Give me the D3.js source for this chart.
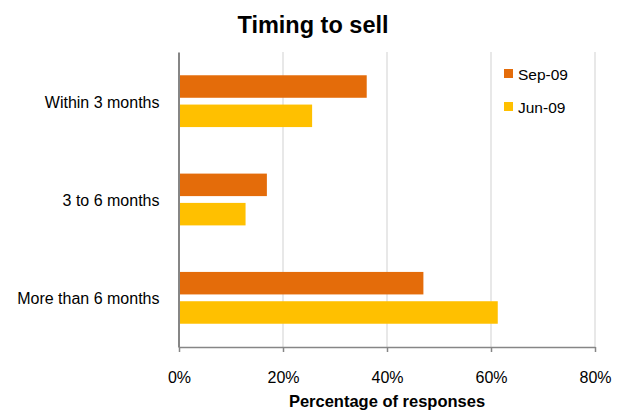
<!DOCTYPE html>
<html>
<head>
<meta charset="utf-8">
<script src="https://cdn.jsdelivr.net/npm/d3@7"></script>
<style>
  html, body { margin: 0; padding: 0; background: #fff; }
  svg { display: block; font-family: "Liberation Sans", Arial, sans-serif; }
</style>
</head>
<body>
<svg id="chart" width="617" height="410"></svg>
<script>
const categories = ["Within 3 months", "3 to 6 months", "More than 6 months"];
const seriesNames = ["Sep-09", "Jun-09"];
const sep09 = [36.1, 16.9, 47.0];
const jun09 = [25.6, 12.8, 61.3];
const xTicks = [0, 20, 40, 60, 80];
const colors = ["#E46C0A", "#FFC000"];
const titleText = "Timing to sell";
const xTitle = "Percentage of responses";

const seriesValues = [sep09, jun09];
const svg = d3.select("#chart");
const plotLeft = 179, plotRight = 595, plotTop = 52, plotBottom = 347;

const x = d3.scaleLinear().domain([0, 80]).range([plotLeft, plotRight]);
const y0 = d3.scaleBand().domain(categories).range([plotTop, plotBottom]).paddingInner(0).paddingOuter(0);
const y1 = d3.scaleBand().domain(seriesNames).range([0, y0.bandwidth()]).paddingInner(0.232).paddingOuter(0.794);

// gridlines
svg.append("g").selectAll("line").data(xTicks.filter(d => d > 0)).join("line")
  .attr("x1", d => x(d)).attr("x2", d => x(d))
  .attr("y1", plotTop).attr("y2", plotBottom)
  .attr("stroke", "#D9D9D9").attr("stroke-width", 1.2);

// bars
seriesNames.forEach((s, si) => {
  svg.append("g").selectAll("rect").data(categories).join("rect")
    .attr("x", x(0))
    .attr("y", c => y0(c) + y1(s))
    .attr("width", (c, i) => x(seriesValues[si][i]) - x(0))
    .attr("height", y1.bandwidth())
    .attr("fill", colors[si]);
});

// x axis
const xAxis = d3.axisBottom(x).tickValues(xTicks).tickFormat(d => d + "%").tickSize(5).tickSizeOuter(0).tickPadding(20);
const gx = svg.append("g").attr("transform", `translate(0,${plotBottom})`).call(xAxis);
gx.select(".domain").attr("stroke", "#868686").attr("stroke-width", 1.5);
gx.selectAll(".tick line").attr("stroke", "#868686").attr("stroke-width", 1.5);
gx.selectAll(".tick text").attr("font-size", "16px").attr("fill", "#000")
  .attr("font-family", "'Liberation Sans', Arial, sans-serif");

// y axis
const yAxis = d3.axisLeft(y0).tickSize(0).tickPadding(19);
const gy = svg.append("g").attr("transform", `translate(${plotLeft - 0.5},0)`).call(yAxis);
gy.select(".domain").attr("stroke", "#868686").attr("stroke-width", 2);
gy.selectAll(".tick text").attr("font-size", "16px").attr("fill", "#000").attr("dy", "0.4em")
  .attr("font-family", "'Liberation Sans', Arial, sans-serif");

// title
svg.append("text").attr("x", 313).attr("y", 33).attr("text-anchor", "middle")
  .attr("font-size", "23.5px").attr("font-weight", "bold").text(titleText);

// x title
svg.append("text").attr("x", (plotLeft + plotRight) / 2).attr("y", 407).attr("text-anchor", "middle")
  .attr("font-size", "16.5px").attr("font-weight", "bold").text(xTitle);

// legend
const legend = svg.append("g");
seriesNames.forEach((s, i) => {
  const ly = 69 + i * 33;
  legend.append("rect").attr("x", 504).attr("y", ly).attr("width", 9).attr("height", 9).attr("fill", colors[i]);
  legend.append("text").attr("x", 518).attr("y", ly + 10.5).attr("font-size", "15.5px").text(s);
});
</script>
</body>
</html>
